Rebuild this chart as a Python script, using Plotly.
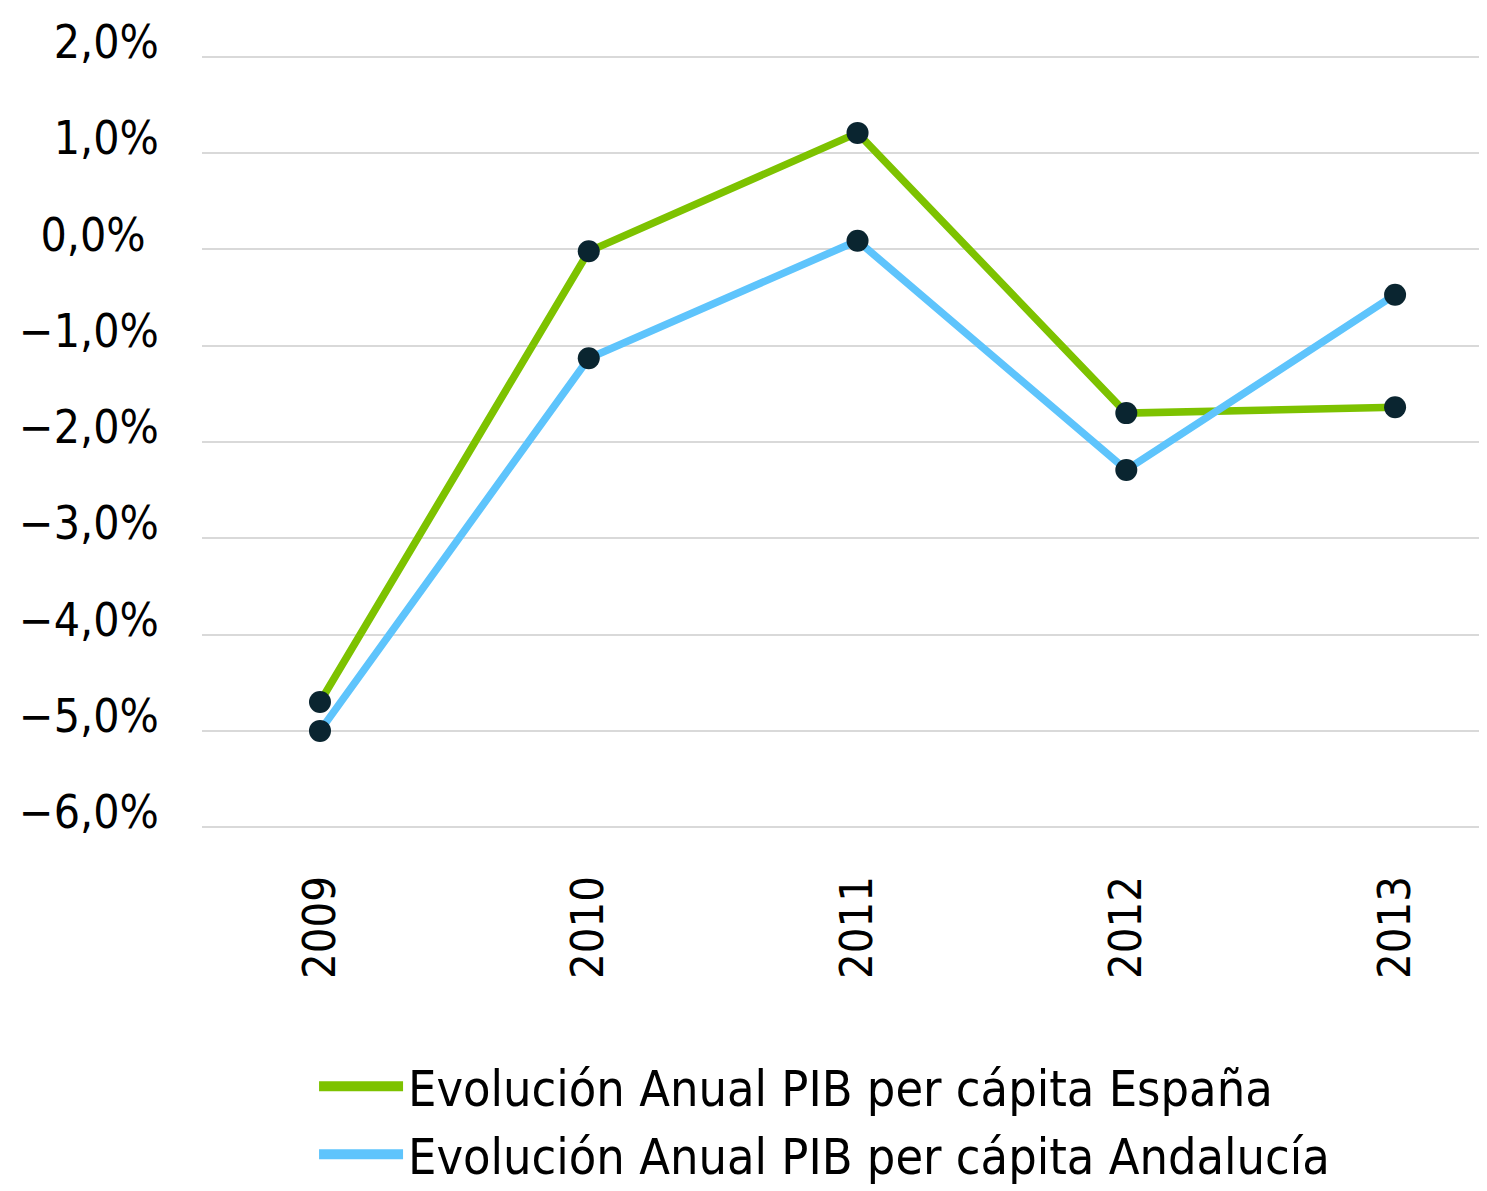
import plotly.graph_objects as go

years = [2009, 2010, 2011, 2012, 2013]
espana = [-4.70, -0.02, 1.21, -1.70, -1.64]
andalucia = [-5.00, -1.13, 0.09, -2.29, -0.47]
names = ["Evolución Anual PIB per cápita España", "Evolución Anual PIB per cápita Andalucía"]
y_ticks = [2, 1, 0, -1, -2, -3, -4, -5, -6]
y_ticktext = ["2,0%", "1,0%", "0,0%\u00a0", "−1,0%", "−2,0%", "−3,0%", "−4,0%", "−5,0%", "−6,0%"]

GREEN = "#7dc200"
BLUE = "#5ec4fc"
DOT = "#0a2530"
FONT = "Liberation Sans Narrow, DejaVu Sans Condensed, Roboto, sans-serif"

fig = go.Figure()
for vals, col in [(espana, GREEN), (andalucia, BLUE)]:
    fig.add_trace(go.Scatter(x=years, y=vals, mode="lines+markers",
                             line=dict(color=col, width=7.5),
                             marker=dict(color=DOT, size=22),
                             showlegend=False, hoverinfo="x+y"))
for name, col in zip(names, [GREEN, BLUE]):
    fig.add_trace(go.Scatter(x=[None], y=[None], mode="lines", name=name,
                             line=dict(color=col, width=10)))

fig.update_layout(
    width=1479, height=1183,
    margin=dict(l=194, r=0, t=44, b=359, autoexpand=False),
    paper_bgcolor="white", plot_bgcolor="white",
    font=dict(family=FONT, size=46, color="#000000"),
    showlegend=True,
    legend=dict(x=0.0872, xanchor="left", y=-0.276, yanchor="top",
                orientation="v", itemwidth=84, tracegroupgap=0,
                font=dict(family=FONT, size=50, color="#000000"),
                bgcolor="rgba(0,0,0,0)"),
    xaxis=dict(range=[2008.561, 2013.342], tickvals=years,
               ticktext=[str(y) for y in years], tickangle=-90,
               showgrid=False, zeroline=False, showline=False, automargin=False,
               ticks="outside", ticklen=25, tickcolor="rgba(0,0,0,0)",
               tickfont=dict(family=FONT, size=45)),
    yaxis=dict(range=[-6.05, 2.05], tickvals=y_ticks, ticktext=y_ticktext,
               showgrid=True, gridcolor="#d9d9d9", gridwidth=2,
               zeroline=False, showline=False, automargin=False,
               ticks="outside", ticklen=33, tickcolor="rgba(0,0,0,0)",
               ticklabelshift=-15,
               tickfont=dict(family=FONT, size=46)),
)

fig.write_html("out.html")
